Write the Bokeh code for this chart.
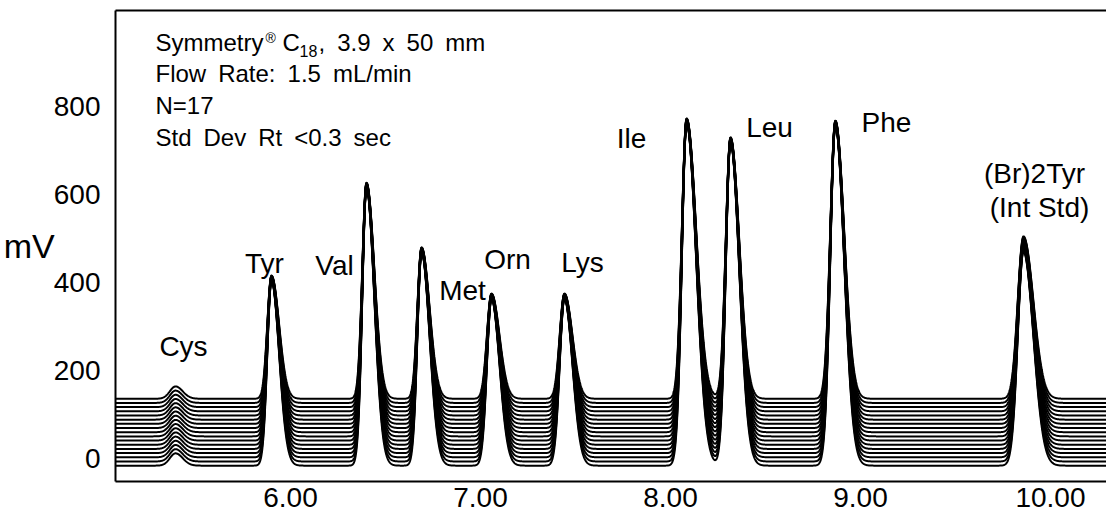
import numpy as np
from bokeh.plotting import figure
from bokeh.models import Range1d, FixedTicker, LinearAxis, NumeralTickFormatter, ColumnDataSource
from bokeh.core.properties import value
from bokeh.embed import file_html
from bokeh.resources import INLINE

# ---------------- data ----------------
peak_names = ["Cys", "Tyr", "Val", "Met", "Orn", "Lys", "Ile", "Leu", "Phe", "(Br)2Tyr"]
peak_rt = [5.395, 5.900, 6.400, 6.690, 7.058, 7.442, 8.085, 8.316, 8.868, 9.858]      # min
peak_h_top = [28, 280, 491, 344, 239, 239, 637, 594, 632, 369]                        # mV, top trace
peak_h_bottom = [28, 420, 631, 484, 379, 379, 777, 734, 772, 486]                     # mV, bottom trace
peak_sigma_left = [0.030, 0.022, 0.022, 0.022, 0.024, 0.025, 0.025, 0.025, 0.027, 0.030]
peak_sigma_right = [0.038, 0.040, 0.041, 0.042, 0.042, 0.042, 0.050, 0.046, 0.046, 0.052]
trace_baseline = [-16, -6.5, 3, 12.5, 22, 31.5, 41, 50.5, 60, 69.5,
                  79, 88.5, 98, 107.5, 117, 126.5, 136]                                 # mV, 17 runs
x_ticks = [6, 7, 8, 9, 10]
y_ticks = [0, 200, 400, 600, 800]
SP = "\u2002"  # the reference uses wide word spaces
info_lines = ["Flow" + SP + "Rate:" + SP + "1.5" + SP + "mL/min", "N=17",
              "Std" + SP + "Dev" + SP + "Rt" + SP + "<0.3" + SP + "sec"]
info_tail = "," + SP + "3.9" + SP + "x" + SP + "50" + SP + "mm"

FONT = "Liberation Sans"
X0, X1 = 5.079, 10.295
Y0, Y1 = -52, 1018

# frame geometry in page pixels (used only to place the texts)
FL, FR, FT, FB = 117, 1108, 10, 481


def px_x(px):
    return X0 + (px - FL) * (X1 - X0) / (FR - FL)


def px_y(py):
    return Y1 - (py - FT) * (Y1 - Y0) / (FB - FT)


t = np.linspace(X0, X1, 3000)
b_bot, b_top = trace_baseline[0], trace_baseline[-1]
xs, ys = [], []
for b in trace_baseline:
    f = (b - b_bot) / (b_top - b_bot)
    y = np.full_like(t, float(b))
    for rt, ht, hb, sl, sr in zip(peak_rt, peak_h_top, peak_h_bottom, peak_sigma_left, peak_sigma_right):
        h = hb + (ht - hb) * f
        s = np.where(t < rt, sl, sr)
        y = y + h * np.exp(-0.5 * ((t - rt) / s) ** 2)
    xs.append(t)
    ys.append(y)

p = figure(width=1106, height=513, x_range=Range1d(X0, X1), y_range=Range1d(Y0, Y1),
           output_backend="svg", toolbar_location=None,
           min_border_left=115, min_border_right=0, min_border_top=10, min_border_bottom=32)
p.outline_line_color = None
p.grid.visible = False
p.background_fill_color = "white"

for ax in (p.xaxis[0], p.yaxis[0]):
    ax.axis_line_color = "black"
    ax.axis_line_width = 2
    ax.major_tick_line_color = None
    ax.minor_tick_line_color = None
    ax.major_label_text_font = FONT
    ax.major_label_text_font_size = "28px"
    ax.major_label_text_color = "black"

p.xaxis.ticker = FixedTicker(ticks=x_ticks)
p.xaxis.formatter = NumeralTickFormatter(format="0.00")
p.xaxis.major_label_standoff = 0
p.yaxis.ticker = FixedTicker(ticks=y_ticks)
p.yaxis.major_label_standoff = 9
p.yaxis.axis_label = "mV"
p.yaxis.axis_label_orientation = "horizontal"
p.yaxis.axis_label_text_font = FONT
p.yaxis.axis_label_text_font_size = "34px"
p.yaxis.axis_label_text_font_style = "normal"
p.yaxis.axis_label_text_color = "black"
p.yaxis.axis_label_standoff = -4

top_axis = LinearAxis(ticker=FixedTicker(ticks=[]), axis_line_color="black", axis_line_width=2,
                      major_tick_line_color=None, minor_tick_line_color=None,
                      major_label_text_font_size="0px")
p.add_layout(top_axis, "above")

src = ColumnDataSource(dict(xs=xs, ys=ys))
p.multi_line(xs="xs", ys="ys", source=src, line_color="black", line_width=2)

# peak labels (centres read in page pixels)
label_px = {"Cys": (185, 346), "Tyr": (266, 263), "Val": (336, 265), "Met": (464, 290),
            "Orn": (509, 259), "Lys": (584, 262), "Ile": (633, 138), "Leu": (771, 127),
            "Phe": (888, 122), "(Br)2Tyr": (1036, 173)}
lab_src = ColumnDataSource(dict(
    x=[px_x(label_px[n][0]) for n in peak_names] + [px_x(1041)],
    y=[px_y(label_px[n][1]) for n in peak_names] + [px_y(207)],
    text=peak_names + ["(Int Std)"]))
p.text(x="x", y="y", text="text", source=lab_src, text_font=value(FONT), text_font_size="28px",
       text_align="center", text_baseline="middle", text_color="black")

# info block
p.text(x=[px_x(157)] * 3, y=[px_y(73), px_y(105), px_y(137)], text=info_lines,
       text_font=value(FONT), text_font_size="24px", text_align="left", text_baseline="middle",
       text_color="black")
p.text(x=[px_x(157)], y=[px_y(42)], text=["Symmetry"], text_font=value(FONT), text_font_size="24px",
       text_align="left", text_baseline="middle", text_color="black")
p.text(x=[px_x(267)], y=[px_y(37)], text=["®"], text_font=value(FONT), text_font_size="14px",
       text_align="left", text_baseline="middle", text_color="black")
p.text(x=[px_x(284)], y=[px_y(42)], text=["C"], text_font=value(FONT), text_font_size="24px",
       text_align="left", text_baseline="middle", text_color="black")
p.text(x=[px_x(301)], y=[px_y(50)], text=["18"], text_font=value(FONT), text_font_size="16px",
       text_align="left", text_baseline="middle", text_color="black")
p.text(x=[px_x(320)], y=[px_y(42)], text=[info_tail], text_font=value(FONT), text_font_size="24px",
       text_align="left", text_baseline="middle", text_color="black")

open("out.html", "w").write(file_html(p, INLINE))
